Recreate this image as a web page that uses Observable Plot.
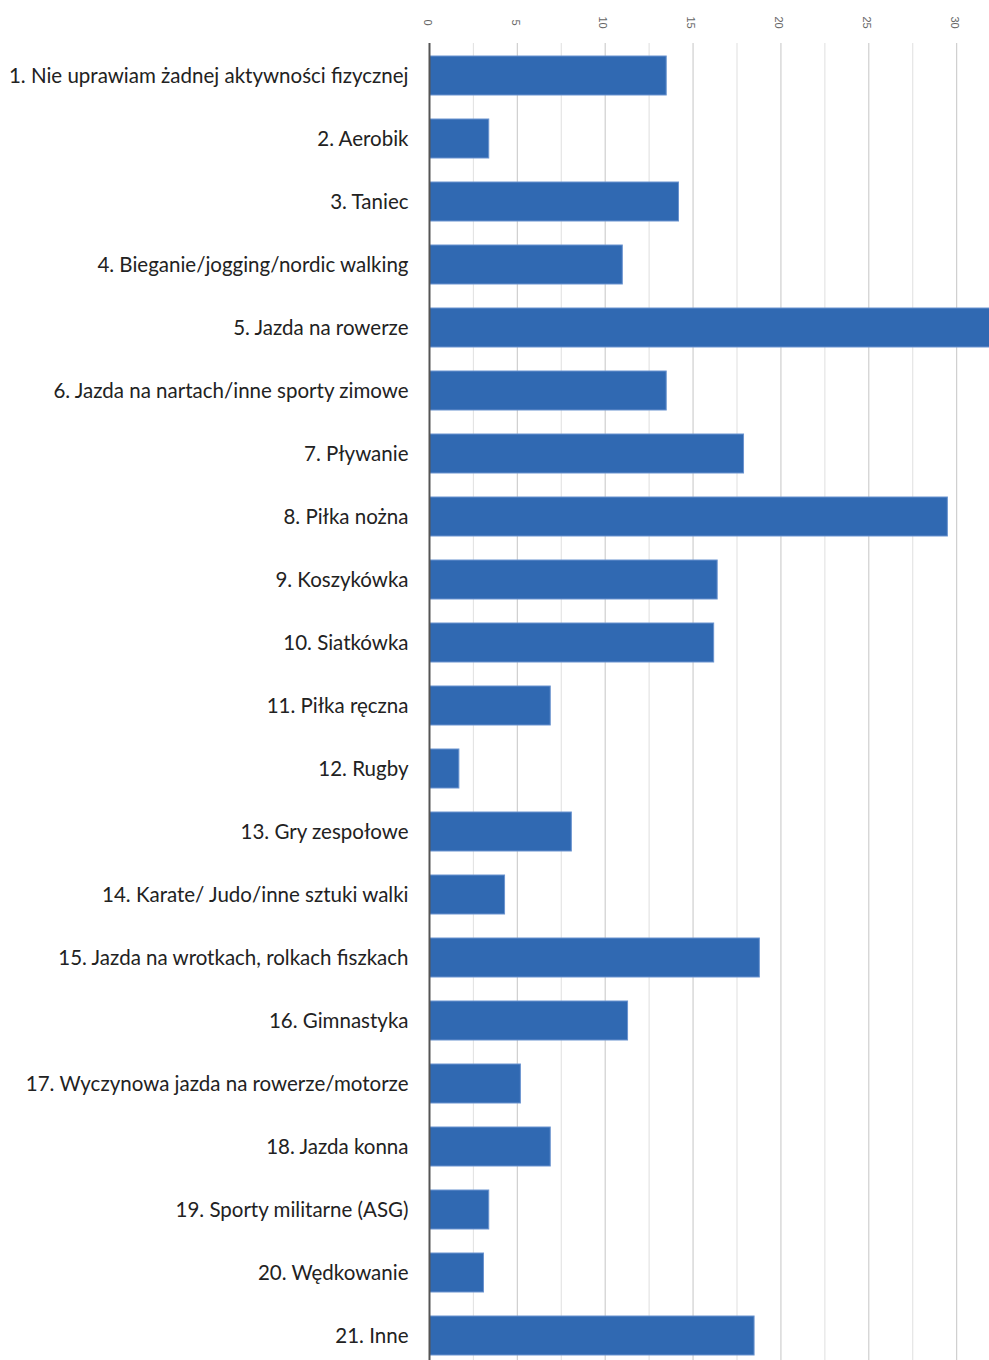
<!DOCTYPE html>
<html>
<head>
<meta charset="utf-8">
<script src="https://cdn.jsdelivr.net/npm/d3@7"></script>
<script src="https://cdn.jsdelivr.net/npm/@observablehq/plot@0.6"></script>
<style>
  html, body { margin: 0; padding: 0; background: #fff; overflow: hidden; }
</style>
</head>
<body>
<div id="chart"></div>
<script>
const categories = [
  "1. Nie uprawiam żadnej aktywności fizycznej",
  "2. Aerobik",
  "3. Taniec",
  "4. Bieganie/jogging/nordic walking",
  "5. Jazda na rowerze",
  "6. Jazda na nartach/inne sporty zimowe",
  "7. Pływanie",
  "8. Piłka nożna",
  "9. Koszykówka",
  "10. Siatkówka",
  "11. Piłka ręczna",
  "12. Rugby",
  "13. Gry zespołowe",
  "14. Karate/ Judo/inne sztuki walki",
  "15. Jazda na wrotkach, rolkach fiszkach",
  "16. Gimnastyka",
  "17. Wyczynowa jazda na rowerze/motorze",
  "18. Jazda konna",
  "19. Sporty militarne (ASG)",
  "20. Wędkowanie",
  "21. Inne"
];
const values = [13.5, 3.4, 14.2, 11.0, 33.5, 13.5, 17.9, 29.5, 16.4, 16.2, 6.9, 1.7, 8.1, 4.3, 18.8, 11.3, 5.2, 6.9, 3.4, 3.1, 18.5];
const xTicks = [0, 5, 10, 15, 20, 25, 30];
const minorTicks = [2.5, 7.5, 12.5, 17.5, 22.5, 27.5, 32.5];

const data = categories.map((c, i) => ({category: c, value: values[i]}));

const chart = Plot.plot({
  width: 989,
  height: 1368,
  marginLeft: 429,
  marginRight: 0,
  marginTop: 43,
  marginBottom: 0,
  style: {background: "#fff"},
  x: {domain: [0, 31.87], axis: null},
  y: {domain: categories, paddingInner: 0.38, paddingOuter: 0.19, label: null},
  marks: [
    Plot.ruleX(minorTicks, {stroke: "#e4e4e4", strokeWidth: 1.2, clip: true}),
    Plot.ruleX(xTicks.filter(d => d > 0), {stroke: "#cfcfcf", strokeWidth: 1.2, clip: true}),
    Plot.barX(data, {y: "category", x: "value", fill: "#3069b2", stroke: "#6a93cf", strokeWidth: 1, clip: true}),
    Plot.ruleX([0], {stroke: "#555", strokeWidth: 2}),
    Plot.text(xTicks, {x: d => d, frameAnchor: "top", dy: -21, dx: 2, rotate: 90, text: d => String(d), fill: "#666", fontSize: 11, fontFamily: "Liberation Sans, Arial, sans-serif"}),
    Plot.axisY({tickSize: 0, tickPadding: 21, fontSize: 20.5, fontFamily: "Lato, 'Open Sans', sans-serif", color: "#222", label: null})
  ]
});
document.getElementById("chart").appendChild(chart);
</script>
</body>
</html>
